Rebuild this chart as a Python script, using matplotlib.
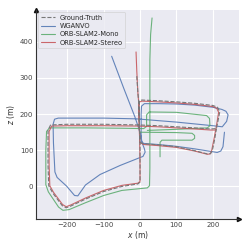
import matplotlib
matplotlib.use("Agg")
import matplotlib.pyplot as plt
import seaborn as sns
import numpy as np

nan = np.nan

# Ground truth trajectory (x, z in metres)
gt_x = [-9, -6, -4, -3, -2, 0, 0, 0, -6, -50, -100, -150, -190, -203, -214, -240, -251, -253, -253, -246,
        -200, -100, -2, 50, 100, 150, 195, 210, 214, 219, 213, 200, 150, 100, 50, 5, -2, -2, 0, 10, 50, 100,
        150, 185, 194, 199, 205, 210]
gt_z = [305, 260, 238, 200, 170, 122, 60, 12, 7, 0, -14, -35, -54, -59, -53, -18, 2, 60, 155, 170,
        172, 172, 170, 168, 165, 162, 159, 160, 180, 206, 219, 224, 230, 234, 237, 239, 236, 170, 122, 118, 115, 110,
        99, 90, 91, 100, 130, 160]

# WGANVO
wganvo_x = [-78, -45, -14, -5, 2, 6, 12, 14, 8, 0, -55, -110, -150, -171, -180, -202, -228, -234, -238, -239,
            -235, -225, -100, -10, 50, 100, 150, 200, 226, 238, 242, 236, 225, 200, 150, 100, 50, 12, 4, 3, 3,
            3, 10, 50, 100, 150, 200, 212, 222, 228, 232]
wganvo_z = [360, 272, 192, 165, 140, 120, 104, 95, 83, 80, 58, 33, 4, -26, -25, 1, 25, 40, 120, 172,
            186, 189, 189, 187, 182, 178, 173, 168, 165, 180, 198, 208, 213, 219, 225, 228, 229, 229, 222, 200, 150,
            125, 119, 116, 111, 104, 96, 94, 98, 110, 150]

# ORB-SLAM2-Mono
mono_x = [33, 29, 27, 27, 27, 26, 20, -50, -100, -150, -195, -212, -224, -252, -259, -259, -257, -249,
          -150, -50, 10, 18, 18, 25, 100, 183, 191, 192, 185, 100, 20, nan,
          0, 100, 143, 150, 150, 143, 60, 55, 55]
mono_z = [466, 420, 350, 200, 50, 2, -4, -11, -25, -45, -64, -66, -57, -15, 5, 100, 152, 162,
          162, 161, 160, 166, 198, 206, 205, 196, 188, 168, 162, 158, 155, nan,
          150, 149, 147, 141, 133, 128, 128, 122, 82]

# ORB-SLAM2-Stereo
stereo_x = [-11, -9, -6, -4, -3, -2, -1, 0, 0, -6, -50, -100, -150, -190, -203, -213, -238, -248, -250, -250,
            -243, -200, -100, -2, 50, 100, 150, 195, 208, 212, 216, 211, 200, 150, 100, 50, 5, -3, -2, -1, 10,
            50, 100, 150, 185, 193, 197, 203, 208]
stereo_z = [372, 320, 260, 236, 200, 168, 122, 60, 14, 9, 3, -11, -32, -51, -56, -50, -16, 2, 60, 152,
            167, 168, 168, 167, 165, 162, 159, 156, 156, 180, 205, 216, 221, 227, 231, 234, 236, 233, 170, 122, 116,
            113, 108, 98, 89, 90, 100, 130, 156]

x_ticks = [-200, -100, 0, 100, 200]
z_ticks = [0, 100, 200, 300, 400]

sns.set_style("darkgrid")
plt.rcParams["font.family"] = ["DejaVu Sans"]

fig = plt.figure(figsize=(2.49, 2.49), dpi=100)
ax = fig.add_axes([36 / 249, 1 - 219 / 249, (239 - 36) / 249, (219 - 10) / 249])

pal = sns.color_palette("deep")
lw = 0.8
ax.plot(gt_x, gt_z, "--", color="#777777", lw=lw, label="Ground-Truth", zorder=4)
ax.plot(wganvo_x, wganvo_z, color=pal[0], lw=lw, alpha=0.85, label="WGANVO", zorder=2)
ax.plot(mono_x, mono_z, color=pal[2], lw=lw, alpha=0.85, label="ORB-SLAM2-Mono", zorder=2)
ax.plot(stereo_x, stereo_z, color=pal[3], lw=lw, alpha=0.85, label="ORB-SLAM2-Stereo", zorder=3)

ax.set_xlim(-286, 272)
ax.set_ylim(-90, 488)
ax.set_xticks(x_ticks)
ax.set_yticks(z_ticks)
ax.tick_params(labelsize=5, pad=2, length=0, colors="#444444")
ax.set_xlabel("$x$ (m)", fontsize=5.5, labelpad=1, color="#333333")
ax.set_ylabel("$z$ (m)", fontsize=5.5, labelpad=2, color="#333333")

for s in ["top", "right"]:
    ax.spines[s].set_visible(False)
for s in ["left", "bottom"]:
    ax.spines[s].set_visible(True)
    ax.spines[s].set_color("#333333")
    ax.spines[s].set_linewidth(0.8)
ax.plot(1, 0, ">", color="#111111", ms=3, transform=ax.transAxes, clip_on=False)
ax.plot(0, 1, "^", color="#111111", ms=3, transform=ax.transAxes, clip_on=False)

leg = ax.legend(loc="upper left", fontsize=4.8, handlelength=2.2, borderpad=0.4, labelspacing=0.35,
                handletextpad=0.6, borderaxespad=0.3, frameon=True)
leg.get_frame().set_linewidth(0.5)

fig.savefig("out.png", dpi=100)
